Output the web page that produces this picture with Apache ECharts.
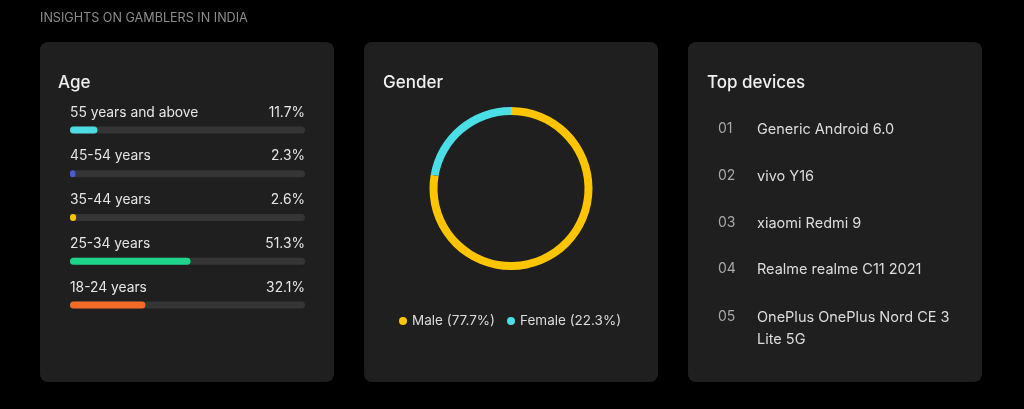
<!DOCTYPE html>
<html>
<head>
<meta charset="utf-8">
<script src="https://cdn.jsdelivr.net/npm/echarts@6/dist/echarts.min.js"></script>
<style>
html,body{margin:0;padding:0;background:#000;}
#c{width:1024px;height:409px;}
</style>
</head>
<body>
<div id="c"></div>
<script>
const pageTitle = 'INSIGHTS ON GAMBLERS IN INDIA';
const ageTitle = 'Age';
const ageGroups = ['55 years and above', '45-54 years', '35-44 years', '25-34 years', '18-24 years'];
const agePercent = [11.7, 2.3, 2.6, 51.3, 32.1];
const ageColors = ['#4ddbe3', '#4a5ad6', '#f7c600', '#1dd58a', '#f46b28'];

const genderTitle = 'Gender';
const genderNames = ['Male', 'Female'];
const genderPercent = [77.7, 22.3];
const genderColors = ['#fdc500', '#4adfe6'];

const devicesTitle = 'Top devices';
const deviceRanks = ['01', '02', '03', '04', '05'];
const deviceNames = ['Generic Android 6.0', 'vivo Y16', 'xiaomi Redmi 9', 'Realme realme C11 2021', 'OnePlus OnePlus Nord CE 3 Lite 5G'];

const FONT = 'Inter, "Noto Sans", sans-serif';
const chart = echarts.init(document.getElementById('c'), null, {renderer: 'canvas'});

const panels = [40, 364, 688].map(x => ({
  type: 'rect', left: x, top: 42, z: 0,
  shape: {width: 294, height: 340, r: 8},
  style: {fill: '#1f1f1f'}
}));

const texts = [
  {type: 'text', left: 40, top: 12, z: 5, style: {text: pageTitle, fill: '#8c8c8c', font: '400 12.6px ' + FONT}},
  {type: 'text', left: 58, top: 74.5, z: 5, style: {text: ageTitle, fill: '#f0f0f0', font: '500 17px ' + FONT}},
  {type: 'text', left: 383, top: 74.5, z: 5, style: {text: genderTitle, fill: '#f0f0f0', font: '500 17px ' + FONT}},
  {type: 'text', left: 707, top: 74.5, z: 5, style: {text: devicesTitle, fill: '#f0f0f0', font: '500 17px ' + FONT}}
];

const devY = [129, 176, 223, 269, 317];
deviceRanks.forEach((r, i) => {
  texts.push({type: 'text', x: 718, y: devY[i], z: 5,
    style: {text: r, fill: '#a8a8a8', font: '400 14px ' + FONT, verticalAlign: 'middle'}});
  texts.push({type: 'text', x: 757, y: devY[i] - 10, z: 5,
    style: {text: deviceNames[i], fill: '#dcdcdc', font: '400 14.5px ' + FONT,
      width: 198, overflow: 'break', lineHeight: 22, verticalAlign: 'top'}});
});

chart.setOption({
  backgroundColor: '#000',
  animation: false,
  graphic: {elements: panels.concat(texts)},
  grid: {left: 70, width: 235, top: 108, height: 219, containLabel: false},
  xAxis: {type: 'value', min: 0, max: 100, show: false},
  yAxis: {type: 'category', data: ageGroups, inverse: true, show: false},
  series: [
    {
      type: 'bar',
      barWidth: 7,
      showBackground: true,
      backgroundStyle: {color: '#353535', borderRadius: 4},
      data: agePercent.map((v, i) => ({value: v, itemStyle: {color: ageColors[i], borderRadius: 4}})),
      label: {
        show: true,
        position: [0, -14],
        align: 'left',
        verticalAlign: 'middle',
        formatter: p => '{a|' + ageGroups[p.dataIndex] + '}{b|' + agePercent[p.dataIndex] + '%}',
        rich: {
          a: {width: 175, align: 'left', color: '#e6e6e6', fontSize: 13.8, fontFamily: FONT},
          b: {width: 60, align: 'right', color: '#e6e6e6', fontSize: 13.8, fontFamily: FONT}
        }
      }
    },
    {
      type: 'pie',
      center: [511, 188.5],
      radius: [73.5, 81.5],
      startAngle: 90,
      clockwise: true,
      label: {show: false},
      labelLine: {show: false},
      silent: true,
      itemStyle: {borderWidth: 0},
      data: genderNames.map((n, i) => ({name: n, value: genderPercent[i], itemStyle: {color: genderColors[i]}}))
    }
  ],
  legend: {
    left: 394, top: 309,
    icon: 'circle', itemWidth: 8, itemHeight: 8, itemGap: 12,
    data: genderNames,
    formatter: n => n + ' (' + genderPercent[genderNames.indexOf(n)] + '%)',
    textStyle: {color: '#dcdcdc', fontSize: 13.5, fontFamily: FONT}
  }
});
</script>
</body>
</html>
